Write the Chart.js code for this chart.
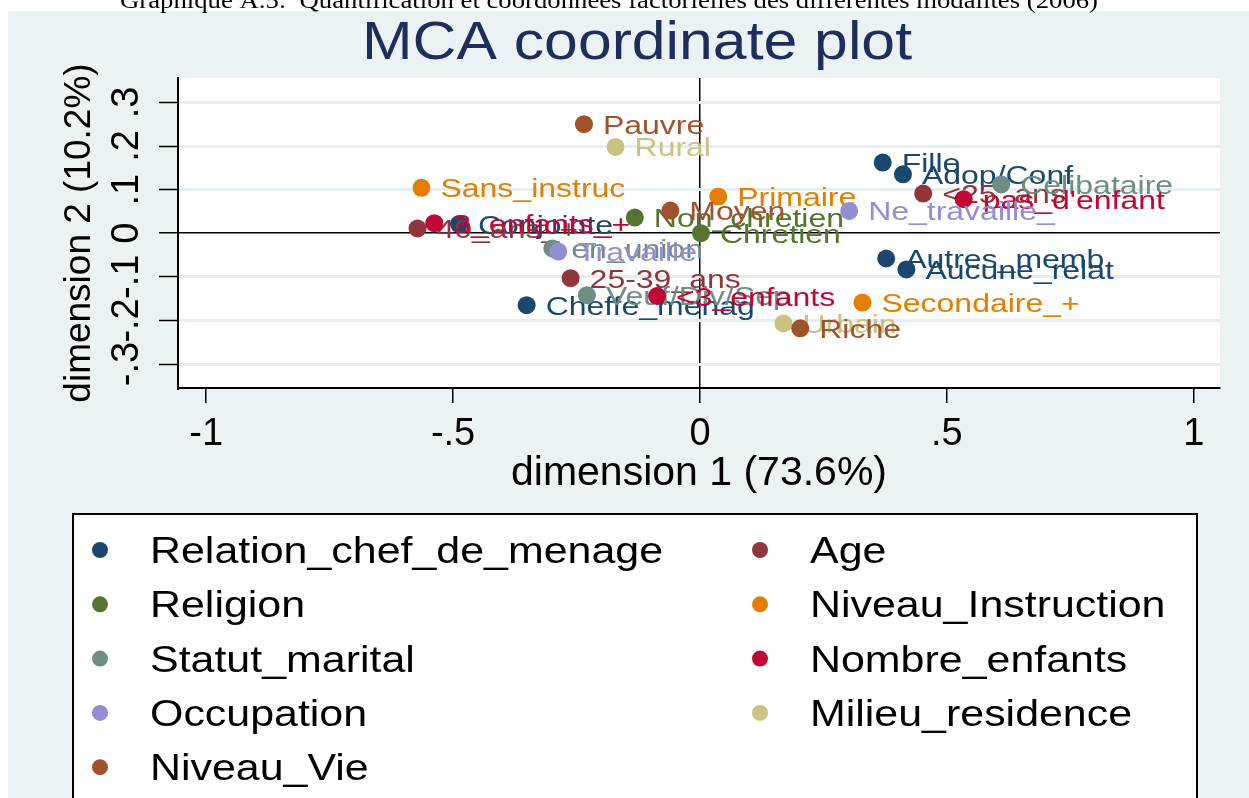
<!DOCTYPE html>
<html>
<head>
<meta charset="utf-8">
<script src="https://cdn.jsdelivr.net/npm/chart.js@4.4.0/dist/chart.umd.min.js"></script>
<style>
  html, body { margin: 0; padding: 0; background: #ffffff; }
  #wrap { width: 1249px; height: 798px; position: relative; }
</style>
</head>
<body>
<div id="wrap"><canvas id="mcaPlot"></canvas></div>
<script>
// variable groups, in Stata plot order (legend is filled row by row, 2 columns)
const groupNames = ['Relation_chef_de_menage', 'Age', 'Religion', 'Niveau_Instruction',
  'Statut_marital', 'Nombre_enfants', 'Occupation', 'Milieu_residence', 'Niveau_Vie'];
const groupColors = ['#1a476f', '#90353b', '#55752f', '#e37e00',
  '#6e8e84', '#c10534', '#938dd2', '#cac27e', '#a0522d'];

const relationCats = ['Fille', 'Adop/Conf', 'Autres_memb', 'Aucune_relat', 'Conjointe', 'Cheffe_menag'];
const relationDim1 = [0.370, 0.411, 0.377, 0.418, -0.488, -0.351];
const relationDim2 = [0.162, 0.135, -0.058, -0.083, 0.021, -0.165];

const ageCats = ['<25_ans', '25-39_ans', '40_ans_+'];
const ageDim1 = [0.452, -0.262, -0.572];
const ageDim2 = [0.091, -0.103, 0.011];

const religionCats = ['Non_chretien', 'Chretien'];
const religionDim1 = [-0.132, 0.002];
const religionDim2 = [0.036, 0.000];

const instructionCats = ['Sans_instruc', 'Primaire', 'Secondaire_+'];
const instructionDim1 = [-0.564, 0.037, 0.329];
const instructionDim2 = [0.104, 0.084, -0.159];

const statutCats = ['Celibataire', 'en_union', 'Veuf/Div/Sep'];
const statutDim1 = [0.610, -0.299, -0.229];
const statutDim2 = [0.112, -0.035, -0.142];

const enfantsCats = ["pas_d'enfant", '<3_enfants', '3_enfants_+'];
const enfantsDim1 = [0.534, -0.087, -0.538];
const enfantsDim2 = [0.078, -0.144, 0.023];

const occupationCats = ['Ne_travaille_', 'Travaille'];
const occupationDim1 = [0.302, -0.287];
const occupationDim2 = [0.051, -0.042];

const milieuCats = ['Rural', 'Urbain'];
const milieuDim1 = [-0.171, 0.169];
const milieuDim2 = [0.198, -0.207];

const vieCats = ['Pauvre', 'Moyen', 'Riche'];
const vieDim1 = [-0.235, -0.060, 0.203];
const vieDim2 = [0.250, 0.052, -0.218];

const xTicks = [-1, -0.5, 0, 0.5, 1];
const yTicks = [-0.3, -0.2, -0.1, 0, 0.1, 0.2, 0.3];

const groupCats = [relationCats, ageCats, religionCats, instructionCats, statutCats, enfantsCats, occupationCats, milieuCats, vieCats];
const groupDim1 = [relationDim1, ageDim1, religionDim1, instructionDim1, statutDim1, enfantsDim1, occupationDim1, milieuDim1, vieDim1];
const groupDim2 = [relationDim2, ageDim2, religionDim2, instructionDim2, statutDim2, enfantsDim2, occupationDim2, milieuDim2, vieDim2];

const FONT = '"Liberation Sans", Arial, sans-serif';

// Stata style numbers: .5 instead of 0.5
function stataNum(v) {
  return String(Math.round(v * 100) / 100).replace('0.', '.');
}

const datasets = groupNames.map((name, i) => ({
  label: name,
  data: groupDim1[i].map((x, k) => ({ x: x, y: groupDim2[i][k] })),
  cats: groupCats[i],
  backgroundColor: groupColors[i],
  borderColor: groupColors[i],
  borderWidth: 0,
  pointRadius: 9,
  pointHoverRadius: 9,
  order: groupNames.length - i
}));

const backgroundPlugin = {
  id: 'stataBackground',
  beforeDraw(chart) {
    const { ctx, chartArea } = chart;
    ctx.save();
    ctx.fillStyle = '#ffffff';
    ctx.fillRect(0, 0, chart.width, chart.height);
    ctx.fillStyle = '#eaf2f3';
    ctx.fillRect(8, 11, chart.width - 8, chart.height - 11);
    ctx.fillStyle = '#ffffff';
    ctx.fillRect(chartArea.left, chartArea.top, chartArea.right - chartArea.left, chartArea.bottom - chartArea.top);

    // caption of the document, cut at the top
    ctx.fillStyle = '#000000';
    ctx.font = '24px "Liberation Serif", "Times New Roman", serif';
    ctx.textBaseline = 'alphabetic';
    const cap = 'Graphique A.5:  Quantification et coordonnées factorielles des différentes modalités (2006)';
    const cw = ctx.measureText(cap).width;
    ctx.translate(120, 8);
    ctx.scale(978 / cw, 1);
    ctx.fillText(cap, 0, 0);
    ctx.restore();

    // title
    ctx.save();
    ctx.fillStyle = '#1e2d5b';
    ctx.font = '54px ' + FONT;
    const title = 'MCA coordinate plot';
    const tw = ctx.measureText(title).width;
    ctx.translate(637 - 275, 59);
    ctx.scale(550 / tw, 1);
    ctx.fillText(title, 0, 0);
    ctx.restore();
  }
};

const markerLabelPlugin = {
  id: 'markerLabels',
  afterDatasetDraw(chart, args) {
    const ds = chart.data.datasets[args.index];
    const ctx = chart.ctx;
    ctx.save();
    ctx.font = '26px ' + FONT;
    ctx.fillStyle = ds.backgroundColor;
    ctx.textBaseline = 'alphabetic';
    args.meta.data.forEach((pt, k) => {
      ctx.save();
      ctx.translate(pt.x + 19, pt.y + 9.5);
      ctx.scale(1.23, 1);
      ctx.fillText(ds.cats[k], 0, 0);
      ctx.restore();
    });
    ctx.restore();
  }
};

const legendPlugin = {
  id: 'stataLegend',
  afterDraw(chart) {
    const ctx = chart.ctx;
    ctx.save();
    ctx.fillStyle = '#ffffff';
    ctx.fillRect(73, 514, 1124, 300);
    ctx.strokeStyle = '#000000';
    ctx.lineWidth = 2;
    ctx.strokeRect(73, 514, 1124, 300);
    ctx.font = '37px ' + FONT;
    ctx.textBaseline = 'alphabetic';
    chart.data.datasets.forEach((ds, i) => {
      const col = i % 2;
      const row = Math.floor(i / 2);
      const cy = 550 + row * 54.3;
      const mx = col === 0 ? 100 : 760;
      ctx.fillStyle = ds.backgroundColor;
      ctx.beginPath();
      ctx.arc(mx, cy, 8, 0, Math.PI * 2);
      ctx.fill();
      ctx.fillStyle = '#000000';
      ctx.save();
      ctx.translate(mx + 50, cy + 13);
      ctx.scale(1.16, 1);
      ctx.fillText(ds.label, 0, 0);
      ctx.restore();
    });
    ctx.restore();
  }
};

new Chart(document.getElementById('mcaPlot'), {
  type: 'scatter',
  data: { datasets: datasets },
  plugins: [backgroundPlugin, markerLabelPlugin, legendPlugin],
  options: {
    responsive: true,
    maintainAspectRatio: false,
    devicePixelRatio: 1,
    animation: false,
    layout: { padding: { top: 78, left: 8, right: 29, bottom: 290 } },
    plugins: {
      legend: { display: false },
      title: { display: false },
      tooltip: { enabled: false }
    },
    scales: {
      x: {
        type: 'linear',
        min: -1.057,
        max: 1.053,
        afterBuildTicks: s => { s.ticks = xTicks.map(v => ({ value: v })); },
        afterFit: s => { s.height = 120; },
        grid: {
          color: c => (c.tick && c.tick.value === 0 ? '#000000' : 'rgba(0,0,0,0)'),
          lineWidth: 1.5,
          tickColor: '#000000',
          tickLength: 15,
          tickWidth: 1.5
        },
        border: { display: true, color: '#000000', width: 2 },
        ticks: {
          color: '#000000',
          font: { family: FONT, size: 38 },
          padding: 9,
          autoSkip: false,
          maxRotation: 0,
          callback: v => stataNum(v)
        },
        title: {
          display: true,
          text: 'dimension 1 (73.6%)',
          color: '#000000',
          font: { family: FONT, size: 41 },
          padding: { top: 0, bottom: 10 }
        }
      },
      y: {
        type: 'linear',
        min: -0.355,
        max: 0.356,
        afterBuildTicks: s => { s.ticks = yTicks.map(v => ({ value: v })); },
        afterFit: s => { s.width = 170; },
        grid: {
          color: c => (c.tick && c.tick.value === 0 ? '#000000' : '#e4eef0'),
          lineWidth: c => (c.tick && c.tick.value === 0 ? 1.5 : 3),
          tickColor: '#000000',
          tickLength: 19,
          tickWidth: 1.5
        },
        border: { display: true, color: '#000000', width: 2 },
        ticks: {
          color: '#000000',
          font: { family: FONT, size: 38 },
          padding: 9,
          autoSkip: false,
          minRotation: 90,
          maxRotation: 90,
          crossAlign: 'center',
          callback: v => stataNum(v)
        },
        title: {
          display: true,
          text: 'dimension 2 (10.2%)',
          color: '#000000',
          font: { family: FONT, size: 37 },
          padding: { top: 50, bottom: 0 }
        }
      }
    }
  }
});
</script>
</body>
</html>
